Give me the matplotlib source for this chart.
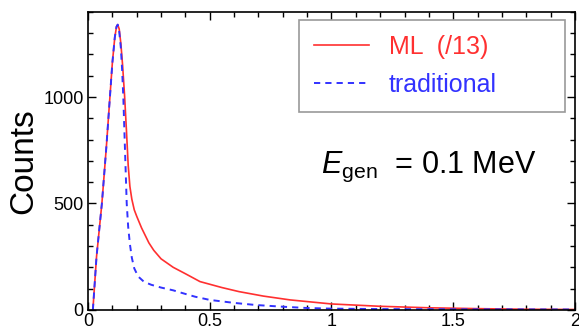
import numpy as np
import matplotlib.pyplot as plt
from matplotlib.ticker import MultipleLocator

# Energy spectra (counts vs reconstructed energy)
energy_ml = [0.02, 0.035, 0.057, 0.075, 0.09, 0.10, 0.11, 0.117, 0.122, 0.128, 0.135, 0.142,
             0.15, 0.158, 0.165, 0.172, 0.18, 0.19, 0.20, 0.22, 0.25, 0.27, 0.30, 0.35, 0.40,
             0.46, 0.55, 0.62, 0.72, 0.83, 1.00, 1.20, 1.40, 1.60, 1.80, 2.00]
counts_ml = [0, 250, 500, 760, 1000, 1160, 1280, 1330, 1340, 1320, 1250, 1150,
             1010, 840, 680, 580, 520, 470, 440, 385, 315, 280, 240, 200, 170,
             133, 105, 86, 65, 47, 28, 17, 10, 6, 3, 2]

energy_trad = [0.02, 0.035, 0.057, 0.075, 0.09, 0.10, 0.11, 0.117, 0.122, 0.128, 0.135, 0.14,
               0.145, 0.15, 0.159, 0.165, 0.172, 0.18, 0.19, 0.206, 0.23, 0.26, 0.30, 0.35,
               0.385, 0.44, 0.50, 0.60, 0.69, 0.80, 0.90, 1.00, 1.20, 1.50, 2.00]
counts_trad = [0, 250, 500, 760, 1000, 1160, 1280, 1330, 1340, 1310, 1230, 1130,
               1000, 820, 500, 390, 310, 245, 195, 157, 132, 118, 105, 92,
               80, 62, 47, 33, 23, 15, 9, 6, 4, 3, 2]

plt.rcParams['font.family'] = ['Liberation Sans', 'DejaVu Sans']
plt.rcParams['mathtext.fontset'] = 'custom'
plt.rcParams['mathtext.rm'] = 'Liberation Sans'
plt.rcParams['mathtext.it'] = 'Liberation Sans:italic'

red = '#ff3030'
blue = '#3232ff'

fig = plt.figure(figsize=(5.79, 3.29), dpi=100)
ax = fig.add_axes([0.152, 0.058, 0.841, 0.906])

ax.plot(energy_ml, counts_ml, color=red, lw=1.2, label='ML  (/13)')
ax.plot(energy_trad, counts_trad, color=blue, lw=1.4, ls=(0, (3.2, 2.6)), label='traditional')

ax.set_xlim(0, 2)
ax.set_ylim(0, 1400)
ax.xaxis.set_major_locator(MultipleLocator(0.5))
ax.xaxis.set_minor_locator(MultipleLocator(0.1))
ax.yaxis.set_major_locator(MultipleLocator(500))
ax.yaxis.set_minor_locator(MultipleLocator(100))
ax.set_xticks([0, 0.5, 1, 1.5, 2], ['0', '0.5', '1', '1.5', '2'])
ax.tick_params(which='both', direction='in', top=True, right=True, labelsize=13, width=1)
ax.tick_params(which='major', length=6)
ax.tick_params(which='minor', length=3.5)
ax.tick_params(axis='x', pad=2)
ax.tick_params(axis='y', pad=3)
for s in ax.spines.values():
    s.set_linewidth(1.2)

ax.set_ylabel('Counts', fontsize=24, labelpad=3)

leg = ax.legend(loc='upper left', bbox_to_anchor=(0.433, 0.671, 0.546, 0.302), mode='expand',
                fontsize=18, fancybox=False, framealpha=1, edgecolor='#999999',
                handlelength=2.2, borderpad=0.6, labelspacing=0.55, handletextpad=0.8,
                borderaxespad=0)
leg.get_frame().set_linewidth(1.2)
leg.get_texts()[0].set_color(red)
leg.get_texts()[1].set_color(blue)

ax.text(0.478, 0.48, r'$E_{\mathregular{gen}}$  = 0.1 MeV', transform=ax.transAxes,
        fontsize=22, va='center', ha='left')

fig.savefig('out.png', dpi=100)
